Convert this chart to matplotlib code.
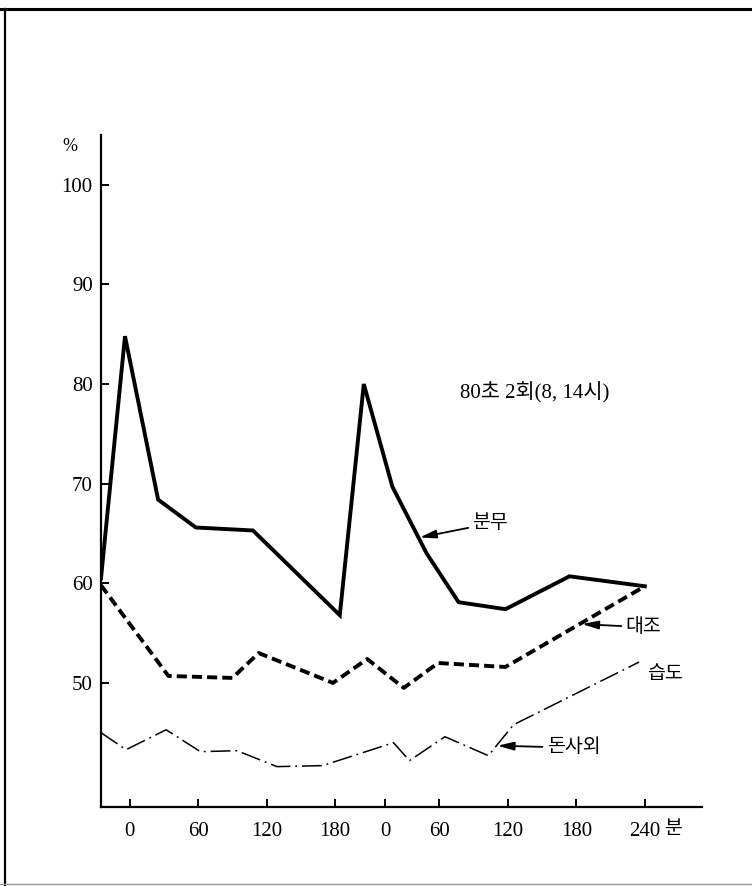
import numpy as np
import matplotlib
matplotlib.use("Agg")
import matplotlib.pyplot as plt
from matplotlib.lines import Line2D

plt.rcParams['font.family'] = ['Liberation Serif', 'Noto Sans CJK KR', 'DejaVu Sans']

# x = minutes elapsed on one running axis (day 1 session, then day 2 session)
spray_x = [-25, -4, 25, 58, 108, 184, 205, 230, 260, 288, 329, 385, 451]
spray_y = [60.5, 84.8, 68.4, 65.6, 65.3, 56.8, 80.0, 69.7, 63.0, 58.1, 57.4, 60.7, 59.7]

control_x = [-25, 34, 90, 113, 178, 208, 240, 270, 329, 451]
control_y = [59.8, 50.7, 50.5, 53.0, 50.0, 52.4, 49.5, 52.0, 51.6, 59.7]

humid_x = [-25, -3, 32, 62, 94, 129, 169, 231, 245, 276, 314, 336, 446]
humid_y = [45.0, 43.3, 45.3, 43.1, 43.2, 41.6, 41.7, 44.0, 42.2, 44.6, 42.7, 45.8, 52.1]

day1_ticks = [0, 60, 120, 180]
day2_ticks = [0, 60, 120, 180, 240]
day2_offset = 211
y_ticks = [50, 60, 70, 80, 90, 100]

fig = plt.figure(figsize=(7.52, 8.86), dpi=100)
ax = fig.add_axes([0.1343, 0.0892, 0.7992, 0.7585])

ax.plot(spray_x, spray_y, color='black', lw=2.8, solid_joinstyle='miter')
ax.plot(control_x, control_y, color='black', lw=2.8, linestyle=(0, (2.6, 1.3)))
ax.plot(humid_x, humid_y, color='black', lw=1.1, linestyle=(0, (13, 3.2, 1.2, 3.2)))

ax.set_xlim(-25, 501)
ax.set_ylim(37.55, 105)

xpos = day1_ticks + [day2_offset + t for t in day2_ticks]
xpos[4] = 224  # drawn a little to the right in the original
xlab = [str(t) for t in day1_ticks] + [str(t) for t in day2_ticks]
ax.set_xticks(xpos)
ax.set_xticklabels(xlab)
ax.set_yticks(y_ticks)

ax.spines['top'].set_visible(False)
ax.spines['right'].set_visible(False)
for s in ['left', 'bottom']:
    ax.spines[s].set_linewidth(1.6)
ax.tick_params(direction='in', length=6, width=1.4, labelsize=15)
ax.tick_params(axis='x', pad=11)
ax.tick_params(axis='y', pad=6)

ax.text(-0.051, 103.8, '%', transform=ax.get_yaxis_transform(), ha='center', va='center', fontsize=13)
ax.text(468, -0.034, '분', transform=ax.get_xaxis_transform(), ha='left', va='center', fontsize=14)

ax.text(289, 79.1, '80초 2회(8, 14시)', ha='left', va='center', fontsize=15)
ax.text(453, 50.8, '습도', ha='left', va='center', fontsize=14)

arrow = dict(arrowstyle='-|>,head_length=0.7,head_width=0.18', color='black', lw=1.3, shrinkA=1, shrinkB=0)
ax.annotate('분무', xy=(254, 64.6), xytext=(300, 66.0), ha='left', va='center', fontsize=14, arrowprops=arrow)
ax.annotate('대조', xy=(396, 55.9), xytext=(434, 55.6), ha='left', va='center', fontsize=14, arrowprops=arrow)
ax.annotate('돈사외', xy=(322, 43.7), xytext=(365, 43.5), ha='left', va='center', fontsize=14, arrowprops=arrow)

# page frame
fig.add_artist(Line2D([0, 1], [0.990, 0.990], color='black', lw=2.2, transform=fig.transFigure))
fig.add_artist(Line2D([0.0066, 0.0066], [0, 0.990], color='black', lw=1.6, transform=fig.transFigure))
fig.add_artist(Line2D([0, 1], [0.002, 0.002], color='#999999', lw=1.0, transform=fig.transFigure))

fig.savefig('out.png', dpi=100)
